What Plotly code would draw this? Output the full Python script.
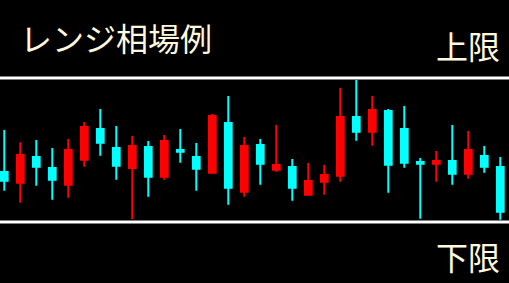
import plotly.graph_objects as go

idx = list(range(32))
colors = ["C","R","C","C","R","R","C","C","R","C","R","C","C","R","C","R",
          "C","R","C","R","R","R","C","R","C","C","C","R","C","R","C","C"]
highs = [153.0,140.7,143.0,135.0,144.0,161.0,174.0,157.0,147.0,142.0,148.0,154.0,140.0,169.0,187.0,146.0,
         144.0,158.0,124.0,120.0,118.0,195.0,203.0,187.0,174.0,177.0,125.0,132.0,158.0,152.0,137.0,126.0]
tops = [111.0,128.0,126.0,115.0,133.0,156.0,154.0,135.0,137.0,136.0,142.0,133.0,126.0,167.0,160.0,137.0,
        138.0,118.0,116.0,102.0,108.0,166.0,166.0,173.0,172.0,154.0,121.0,122.0,122.0,133.0,127.0,116.0]
bots = [102.3,100.3,116.3,103.3,98.3,123.3,140.3,117.3,115.0,106.3,106.3,131.3,114.3,110.3,95.3,91.3,
        119.3,113.3,95.3,88.3,101.3,107.3,151.3,151.3,118.3,120.3,119.3,119.3,109.3,109.3,116.3,71.3]
lows = [92.3,80.3,97.3,83.3,85.3,116.3,127.3,103.3,64.0,86.3,103.3,120.3,92.3,110.3,78.3,86.3,
        98.3,111.3,82.3,87.3,88.3,101.3,142.3,137.3,90.3,115.3,64.3,101.3,98.3,104.3,110.3,63.3]

upper_limit = 205.0
lower_limit = 61.0

opens = [b if c == "R" else t for c, t, b in zip(colors, tops, bots)]
closes = [t if c == "R" else b for c, t, b in zip(colors, tops, bots)]

fig = go.Figure(go.Candlestick(
    x=idx, open=opens, high=highs, low=lows, close=closes,
    increasing=dict(line=dict(color="#FF0000", width=2), fillcolor="#FF0000"),
    decreasing=dict(line=dict(color="#00FFFF", width=2), fillcolor="#00FFFF"),
    whiskerwidth=0, hoverinfo="skip",
))

for yv in (upper_limit, lower_limit):
    fig.add_shape(type="line", xref="paper", yref="y", x0=0, x1=1, y0=yv, y1=yv,
                  line=dict(color="white", width=3), layer="above")

font = dict(family="Noto Sans CJK JP", size=32, color="#FFF8DC")
fig.add_annotation(text="レンジ相場例", xref="paper", yref="y", x=18/509, y=283-37,
                   xanchor="left", yanchor="middle", showarrow=False, font=font)
fig.add_annotation(text="上限", xref="paper", yref="y", x=502/509, y=283-45,
                   xanchor="right", yanchor="middle", showarrow=False, font=font)
fig.add_annotation(text="下限", xref="paper", yref="y", x=502/509, y=283-256,
                   xanchor="right", yanchor="middle", showarrow=False, font=font)

fig.update_layout(
    width=509, height=283, margin=dict(l=0, r=0, t=0, b=0),
    paper_bgcolor="black", plot_bgcolor="black", showlegend=False,
    boxgap=0.4,
    xaxis=dict(range=[-4.3/16, (509-4.3)/16], visible=False, rangeslider=dict(visible=False),
               fixedrange=True),
    yaxis=dict(range=[0, 283], visible=False, fixedrange=True),
)

fig.write_html("out.html", config={"displayModeBar": False})
